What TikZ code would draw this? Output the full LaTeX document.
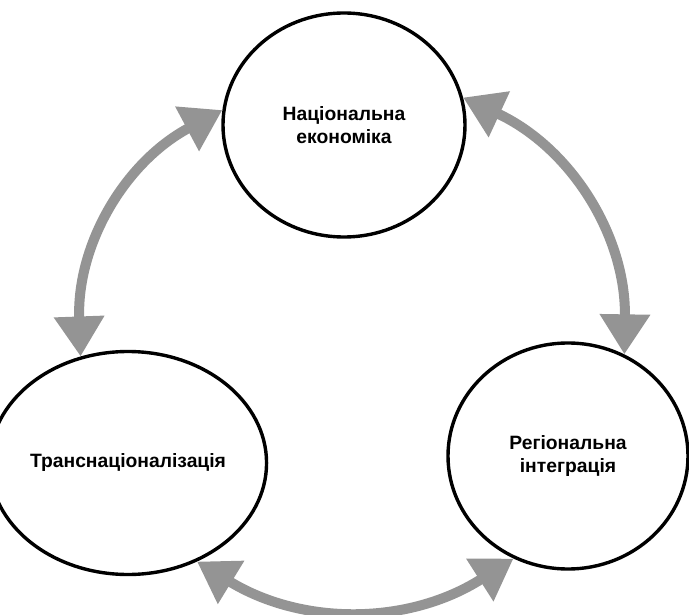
\documentclass[tikz,border=0pt]{standalone}
\usepackage{fontspec}
\setmainfont{Liberation Sans}
\usetikzlibrary{arrows.meta,shapes.geometric}
\begin{document}
\begin{tikzpicture}[x=1pt,y=-1pt,
  sphere/.style={draw=black, line width=3.4pt, ellipse, inner sep=0pt,
    align=center, font=\fontsize{19.3}{23.5}\selectfont\bfseries},
  link/.style={draw=black!42, line width=10pt,
    {Triangle[length=40pt,width=48pt]}-{Triangle[length=40pt,width=48pt]}}]
\useasboundingbox (0,0) rectangle (689,615);

% the three spheres
\node[sphere, minimum width=242pt, minimum height=224pt] (nat) at (344,125)
  {Національна\\економіка};
\node[sphere, minimum width=248pt, minimum height=223pt] (trans) at (128,463)
  {Транснаціоналізація};
\node[sphere, minimum width=240pt, minimum height=226pt] (reg) at (568,456)
  {Регіональна\\інтеграція};

% two-way links between them
\draw[link] (trans.114) to[bend left=32] (nat.173);
\draw[link] (nat.13) to[bend left=33] (reg.61);
\draw[link] (trans.305) to[bend right=32] (reg.242);
\end{tikzpicture}
\end{document}
